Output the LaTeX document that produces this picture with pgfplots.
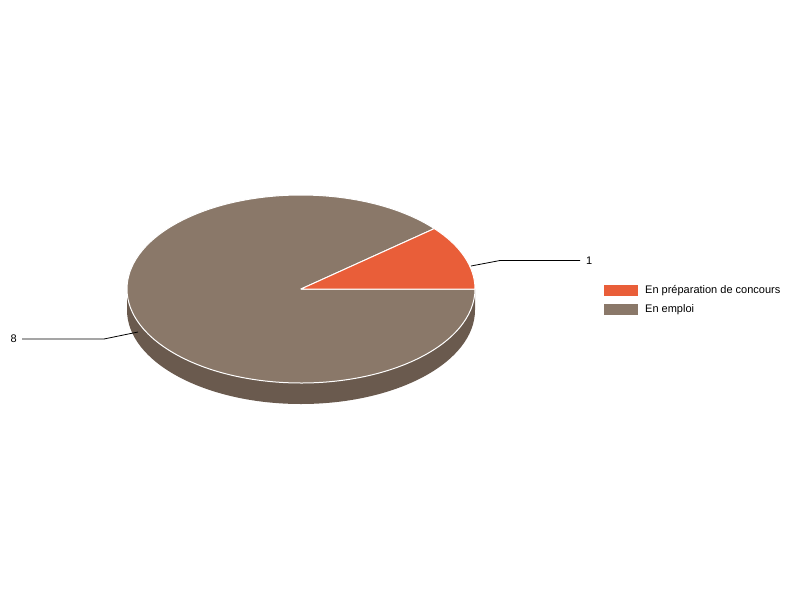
\documentclass[border=0pt]{standalone}
\usepackage{pgfplots}
\usepackage{pgfplotstable}
\pgfplotsset{compat=1.18}
\usepackage{fontspec}
\setmainfont{Liberation Sans}
\definecolor{sliceA}{HTML}{E95E39}
\definecolor{sliceB}{HTML}{8A7869}
\definecolor{sideB}{HTML}{6A5A4E}
\pgfplotstableread{
label value
{En préparation de concours} 1
{En emploi} 8
}\piedata
\begin{document}
\begin{tikzpicture}
\pgfplotstablegetelem{0}{value}\of\piedata \let\va\pgfplotsretval
\pgfplotstablegetelem{1}{value}\of\piedata \let\vb\pgfplotsretval
\pgfmathsetmacro{\total}{\va+\vb}
\pgfmathsetmacro{\angA}{360*\va/\total}
\pgfmathtruncatemacro{\la}{\va}
\pgfmathtruncatemacro{\lb}{\vb}
\begin{axis}[
  width=800pt, height=600pt, scale only axis,
  xmin=0, xmax=800, ymin=0, ymax=600, y dir=reverse,
  hide axis, clip=false,
]
\def\cx{301}\def\cy{289}\def\rx{174}\def\ry{94}\def\dep{21}
% side of the pie (front half)
\fill[sideB] (axis cs:\cx-\rx,\cy) arc[start angle=180, end angle=360, x radius=\rx pt, y radius=\ry pt]
  -- (axis cs:\cx+\rx,\cy+\dep) arc[start angle=360, end angle=180, x radius=\rx pt, y radius=\ry pt] -- cycle;
% top slices
\filldraw[fill=sliceB, draw=white, line width=1pt, line join=round]
  (axis cs:\cx,\cy) -- ++(\angA:\rx pt and \ry pt) arc[start angle=\angA, end angle=360, x radius=\rx pt, y radius=\ry pt] -- cycle;
\filldraw[fill=sliceA, draw=white, line width=1pt, line join=round]
  (axis cs:\cx,\cy) -- ++(0:\rx pt and \ry pt) arc[start angle=0, end angle=\angA, x radius=\rx pt, y radius=\ry pt] -- cycle;
% leader lines and value labels
\draw[black, line width=0.8pt] (axis cs:471,266) -- (axis cs:500,260.5) -- (axis cs:580,260.5);
\node[anchor=west, inner sep=0pt, font=\fontsize{11}{13}\selectfont] at (axis cs:586,261) {\la};
\draw[black, line width=0.8pt] (axis cs:138,332) -- (axis cs:104,339) -- (axis cs:22,339);
\node[anchor=east, inner sep=0pt, font=\fontsize{11}{13}\selectfont] at (axis cs:17,339) {\lb};
% legend
\fill[sliceA] (axis cs:604,285) rectangle (axis cs:638,296);
\fill[sliceB] (axis cs:604,304) rectangle (axis cs:638,315);
\node[anchor=west, inner sep=0pt, font=\fontsize{11}{13}\selectfont] at (axis cs:645,290.5) {En préparation de concours};
\node[anchor=west, inner sep=0pt, font=\fontsize{11}{13}\selectfont] at (axis cs:645,309.5) {En emploi};
\end{axis}
\pgfresetboundingbox
\path (current axis.south west) rectangle (current axis.north east);
\end{tikzpicture}
\end{document}
